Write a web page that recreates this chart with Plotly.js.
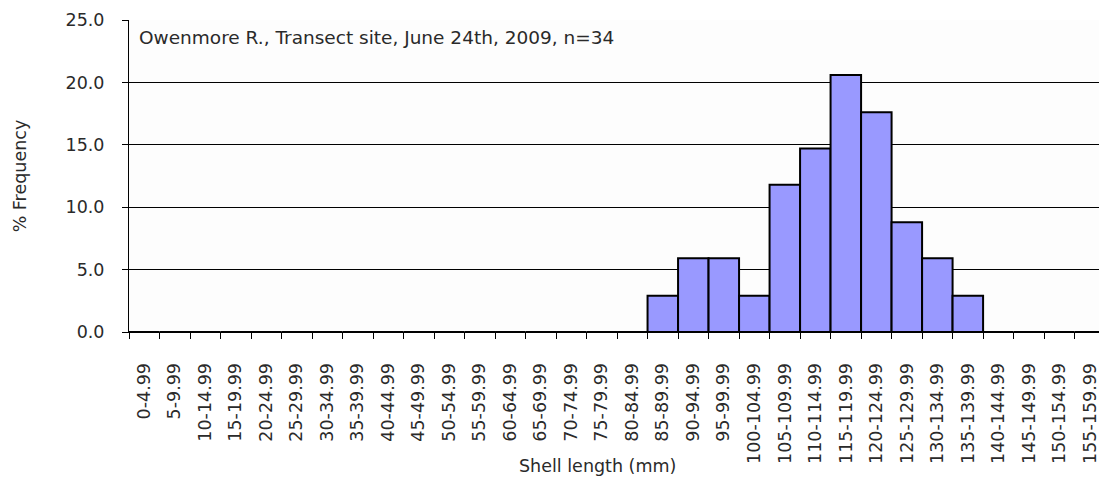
<!DOCTYPE html>
<html><head><meta charset="utf-8">
<script src="https://cdn.plot.ly/plotly-3.0.1.min.js"></script>
<style>body{margin:0;background:#fff}#c{width:1099px;height:477px}</style>
</head><body><div id="c"></div>
<script>
const categories = ["0-4.99","5-9.99","10-14.99","15-19.99","20-24.99","25-29.99","30-34.99","35-39.99","40-44.99","45-49.99","50-54.99","55-59.99","60-64.99","65-69.99","70-74.99","75-79.99","80-84.99","85-89.99","90-94.99","95-99.99","100-104.99","105-109.99","110-114.99","115-119.99","120-124.99","125-129.99","130-134.99","135-139.99","140-144.99","145-149.99","150-154.99","155-159.99"];
const frequency = [0,0,0,0,0,0,0,0,0,0,0,0,0,0,0,0,0,2.9,5.9,5.9,2.9,11.8,14.7,20.6,17.6,8.8,5.9,2.9,0,0,0,0];
const yTicks = [0,5,10,15,20,25];
const yTickLabels = ["0.0","5.0","10.0","15.0","20.0","25.0"];
const chartLabel = "Owenmore R., Transect site, June 24th, 2009, n=34";

const font = {family: "DejaVu Sans, sans-serif", size: 17.5, color: "#2a2a2a"};
const labelFont = {family: "DejaVu Sans, sans-serif", size: 18.5, color: "#2a2a2a"};
const trace = {
  type: "bar", x: categories, y: frequency,
  marker: {color: "#9999ff", line: {color: "#000", width: 2}},
  hoverinfo: "x+y"
};
const layout = {
  width: 1099, height: 477,
  margin: {l: 129, r: 0, t: 20, b: 145},
  paper_bgcolor: "#fff", plot_bgcolor: "#fdfdfd",
  bargap: 0, showlegend: false, font: font,
  xaxis: {
    type: "category", range: [-0.5, 31.3], tickson: "boundaries",
    ticks: "outside", ticklen: 6, tickcolor: "#000", tickwidth: 1,
    tickangle: -90, tickfont: font, showgrid: false,
    showline: true, linecolor: "#000", linewidth: 1, zeroline: false,
    ticklabelstandoff: 23
  },
  yaxis: {
    range: [0, 25], tickvals: yTicks, ticktext: yTickLabels,
    ticks: "outside", ticklen: 6, tickcolor: "#000",
    showgrid: true, gridcolor: "#000", gridwidth: 1,
    showline: true, linecolor: "#000", linewidth: 1, zeroline: false,
    tickfont: font, ticklabelstandoff: 14
  },
  annotations: [
    {text: chartLabel, xref: "paper", yref: "paper", x: 0.008, y: 0.985,
     xanchor: "left", yanchor: "top", showarrow: false, font: labelFont},
    {text: "Shell length (mm)", xref: "paper", yref: "paper", x: 0.483, y: -0.43,
     xanchor: "center", yanchor: "middle", showarrow: false, font: font},
    {text: "% Frequency", xref: "paper", yref: "paper", x: -0.112, y: 0.5,
     xanchor: "center", yanchor: "middle", textangle: -90, showarrow: false, font: font}
  ]
};
Plotly.newPlot("c", [trace], layout, {displayModeBar: false, staticPlot: true});
</script></body></html>
